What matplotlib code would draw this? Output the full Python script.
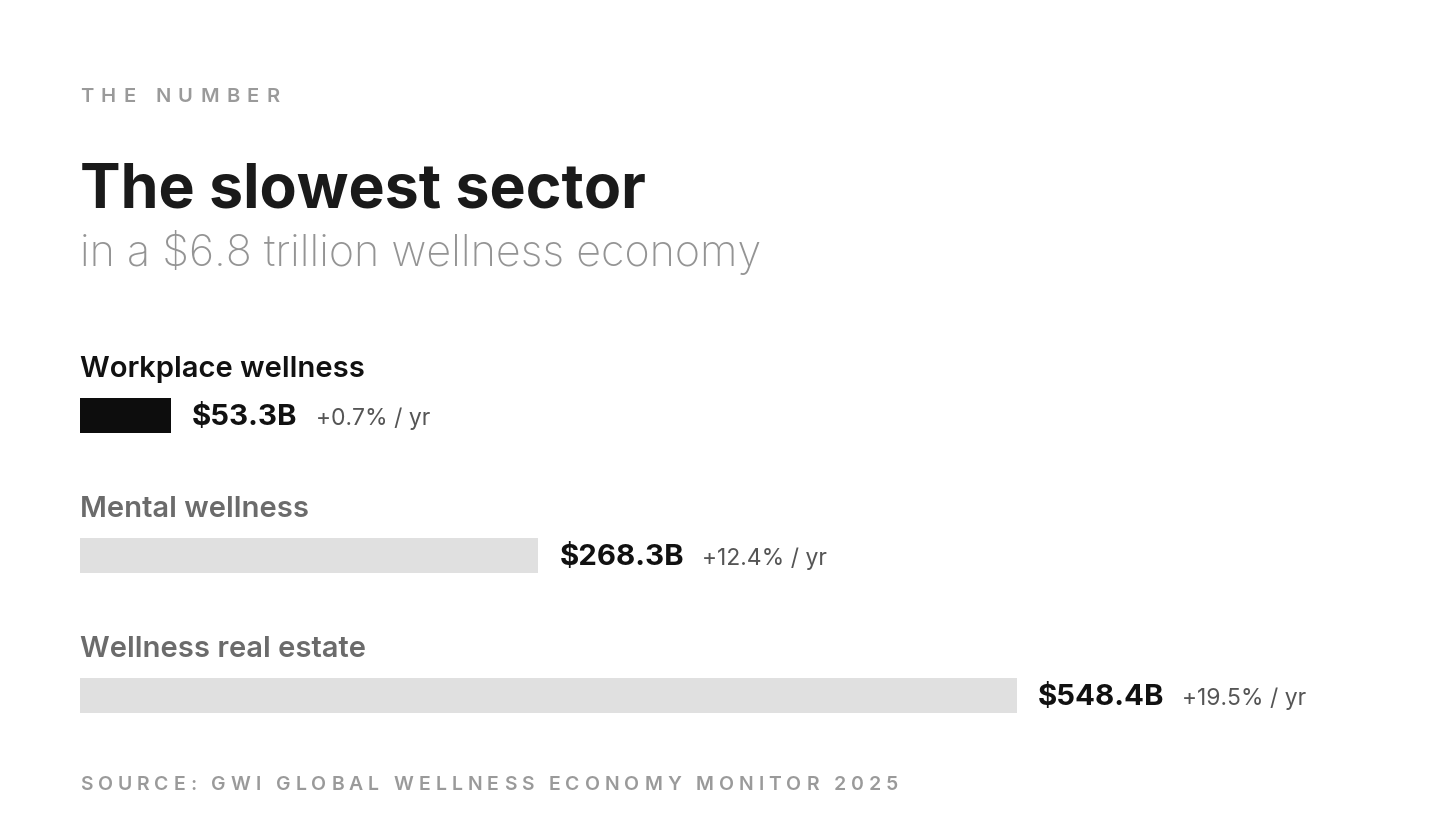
import matplotlib
matplotlib.use("Agg")
import matplotlib.pyplot as plt
from matplotlib.textpath import TextToPath
from matplotlib.font_manager import FontProperties

# data
categories = ["Workplace wellness", "Mental wellness", "Wellness real estate"]
values = [53.3, 268.3, 548.4]
value_labels = ["$53.3B", "$268.3B", "$548.4B"]
growth_labels = ["+0.7% / yr", "+12.4% / yr", "+19.5% / yr"]
highlight = [True, False, False]

kicker = "THE NUMBER"
title = "The slowest sector"
subtitle = "in a $6.8 trillion wellness economy"
source = "SOURCE: GWI GLOBAL WELLNESS ECONOMY MONITOR 2025"

FONT = "Inter"
W, H, DPI = 1456, 840, 100

fig = plt.figure(figsize=(W / DPI, H / DPI), dpi=DPI)
fig.patch.set_facecolor("white")

# axes over whole figure; x in $B, y in row units
left_px = 80
px_per_unit = (1017 - left_px) / max(values)
row_px = 140
first_row_px = 415.5
ax = fig.add_axes([0, 0, 1, 1])
ax.set_xlim(-left_px / px_per_unit, (W - left_px) / px_per_unit)
ax.set_ylim((H - first_row_px) / row_px, -first_row_px / row_px)
ax.axis("off")

rows = list(range(len(categories)))
colors = ["#0d0d0d" if h else "#e0e0e0" for h in highlight]
ax.barh(rows, values, height=35 / row_px, color=colors, left=0)

for i, (cat, v, vl, gl, h) in enumerate(zip(categories, values, value_labels, growth_labels, highlight)):
    ax.text(0, i - 38.5 / row_px, cat, fontsize=21, fontweight="semibold", family=FONT,
            color="#111111" if h else "#6b6b6b", va="baseline", ha="left")
    t = ax.text(v + 21 / px_per_unit, i + 10 / row_px, vl, fontsize=21.2, fontweight="bold",
                family=FONT, color="#111111", va="baseline", ha="left")
    fig.canvas.draw()
    bb = t.get_window_extent()
    x_end = ax.transData.inverted().transform((bb.x1, 0))[0]
    ax.text(x_end + 18 / px_per_unit, i + 10 / row_px, gl, fontsize=16.5, family=FONT,
            color="#555555", va="baseline", ha="left")


def fy(py):
    return 1 - py / H


ttp = TextToPath()


def tracked(x_px, y_px, s, size, tracking, **kw):
    # letter-spaced text, one char at a time
    fp = FontProperties(family=FONT, size=size, weight=kw.get("fontweight", "normal"))
    x = x_px
    for ch in s:
        if ch != " ":
            fig.text(x / W, fy(y_px), ch, fontproperties=fp, color=kw.get("color"),
                     va="baseline", ha="left")
        w, _, _ = ttp.get_text_width_height_descent(ch, fp, ismath=False)
        x += w * DPI / 72 + tracking


tracked(80, 102, kicker, 14.5, 7.4, fontweight="semibold", color="#9a9a9a")
fig.text(80 / W, fy(207), title, family=FONT, fontsize=43.8, fontweight="bold",
         color="#1a1a1a", va="baseline", ha="left")
fig.text(80 / W, fy(266), subtitle, family=FONT, fontsize=31, fontweight="light",
         color="#949494", va="baseline", ha="left")
tracked(80, 790, source, 14, 4.95, fontweight="semibold", color="#9a9a9a")

fig.savefig("out.png", dpi=DPI, facecolor="white")
